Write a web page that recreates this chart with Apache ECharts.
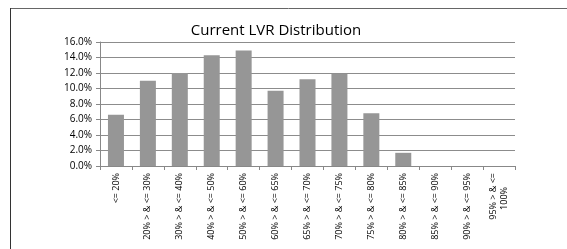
<!DOCTYPE html>
<html><head><meta charset="utf-8">
<script src="https://cdn.jsdelivr.net/npm/echarts@6/dist/echarts.min.js"></script>
<style>html,body{margin:0;padding:0;background:#fff}#c{width:567px;height:249px}</style>
</head><body><div id="c"></div>
<script>
var categories = ['<= 20%','20% > & <= 30%','30% > & <= 40%','40% > & <= 50%','50% > & <= 60%','60% > & <= 65%','65% > & <= 70%','70% > & <= 75%','75% > & <= 80%','80% > & <= 85%','85% > & <= 90%','90% > & <= 95%','95% > & <= 100%'];
var values = [6.6, 11.0, 12.0, 14.3, 14.9, 9.7, 11.2, 11.9, 6.8, 1.7, 0, 0, 0];
var chart = echarts.init(document.getElementById('c'));
chart.setOption({
  animation:false,
  title:{text:'Current LVR Distribution', left:271, top:18, textAlign:'center',
    textStyle:{fontFamily:'Open Sans', fontSize:15, fontWeight:'normal', color:'#000'}},
  graphic:[
    {type:'line', shape:{x1:10,y1:8.5,x2:567,y2:8.5}, style:{stroke:'#666',lineWidth:1}},
    {type:'line', shape:{x1:10.5,y1:8,x2:10.5,y2:249}, style:{stroke:'#333',lineWidth:1}}
  ],
  grid:{left:100, right:52, top:42, bottom:83},
  xAxis:{type:'category', data:categories,
    axisLine:{lineStyle:{color:'#888'}},
    axisTick:{show:true, length:4, lineStyle:{color:'#888'}},
    axisLabel:{rotate:90, interval:0, fontFamily:'Open Sans', fontSize:9, color:'#000', margin:7, lineHeight:11,
      formatter:function(v){
        if (v.length > 14) { var i = v.lastIndexOf(' '); return v.slice(0,i) + '\n' + v.slice(i+1) + '\u00a0\u00a0\u00a0\u00a0\u00a0\u00a0'; }
        return v;
      }}},
  yAxis:{type:'value', min:0, max:16, interval:2,
    axisLine:{show:true, lineStyle:{color:'#888'}},
    axisTick:{show:true, length:4, lineStyle:{color:'#888'}},
    splitLine:{lineStyle:{color:'#8c8c8c'}},
    axisLabel:{formatter:function(v){return v.toFixed(1)+'%';}, fontFamily:'Open Sans', fontSize:10, color:'#000', margin:8}},
  series:[{type:'bar', data:values, barWidth:16,
    itemStyle:{color:'#969696'}}]
});
</script></body></html>
